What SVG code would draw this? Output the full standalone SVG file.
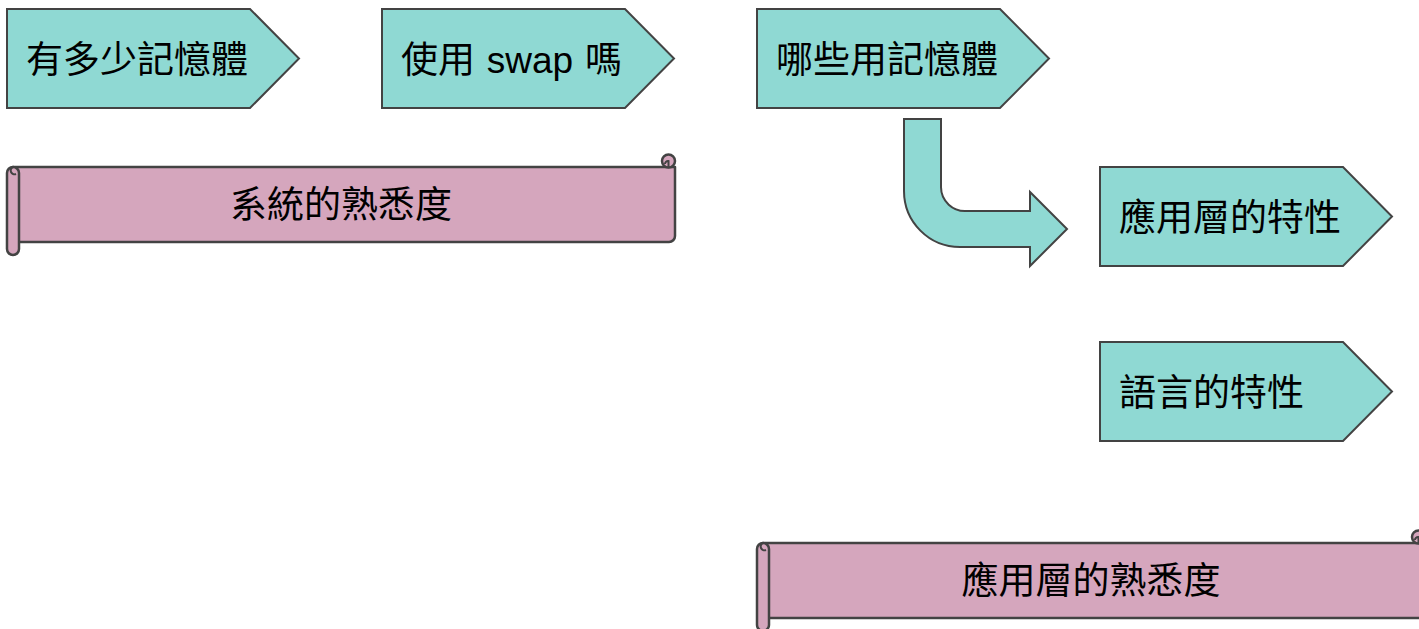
<svg xmlns="http://www.w3.org/2000/svg" width="1419" height="629" viewBox="0 0 1419 629">
<style>
.chev{fill:#8fd9d3;stroke:#434343;stroke-width:2;stroke-linejoin:miter}
.scroll{fill:#d5a6bd;stroke:#434343;stroke-width:2.5;stroke-linejoin:round}
.curl{fill:none;stroke:#434343;stroke-width:2}
.t{font-family:"Noto Sans CJK TC","Liberation Sans",sans-serif;font-size:37px;fill:#000}
</style>
<rect width="1419" height="629" fill="#fff"/>
<g id="node1">
<polygon class="chev" points="7,9 250,9 299,58.5 250,108 7,108"/>
<text class="t" x="26" y="73">有多少記憶體</text>
</g>
<g id="node2">
<polygon class="chev" points="382,9 625,9 674,58.5 625,108 382,108"/>
<text class="t" x="401" y="73" word-spacing="3.5">使用 <tspan font-family="Liberation Sans">swap</tspan> 嗎</text>
</g>
<g id="node3">
<polygon class="chev" points="757,9 1000,9 1049,58.5 1000,108 757,108"/>
<text class="t" x="776" y="73">哪些用記憶體</text>
</g>
<g id="node4">
<polygon class="chev" points="1100,167 1343,167 1392,216.5 1343,266 1100,266"/>
<text class="t" x="1119" y="231">應用層的特性</text>
</g>
<g id="node5">
<polygon class="chev" points="1100,342 1343,342 1392,391.5 1343,441 1100,441"/>
<text class="t" x="1119" y="406">語言的特性</text>
</g>
<g id="node6">
<path class="scroll" d="M13,167 H675 V236 A6,6 0 0 1 669,242 H13 Z"/>
<circle class="scroll" cx="668.5" cy="161" r="6.5"/>
<path class="curl" d="M668.5,167 V161 A3,3 0 0 0 665,164"/>
<rect class="scroll" x="7" y="167" width="12" height="88" rx="6"/>
<path class="curl" d="M13,167 A3.5,3.5 0 1 0 16,174 A3,3 0 0 1 13,167"/>
<text class="t" x="341" y="218" text-anchor="middle">系統的熟悉度</text>
</g>
<g id="node7">
<path class="scroll" d="M763,543 H1425 V612 A6,6 0 0 1 1419,618 H763 Z"/>
<circle class="scroll" cx="1418.5" cy="537" r="6.5"/>
<path class="curl" d="M1418.5,543 V537 A3,3 0 0 0 1415,540"/>
<rect class="scroll" x="757" y="543" width="12" height="88" rx="6"/>
<path class="curl" d="M763,543 A3.5,3.5 0 1 0 766,550 A3,3 0 0 1 763,543"/>
<text class="t" x="1091" y="594" text-anchor="middle">應用層的熟悉度</text>
</g>
<g id="connectors">
<path class="chev" d="M904,119 H941 V187 A24,24 0 0 0 967,211 H1030 V192 L1067,229 L1030,266 V247 H960 A56,56 0 0 1 904,191 Z"/>
</g>
</svg>
